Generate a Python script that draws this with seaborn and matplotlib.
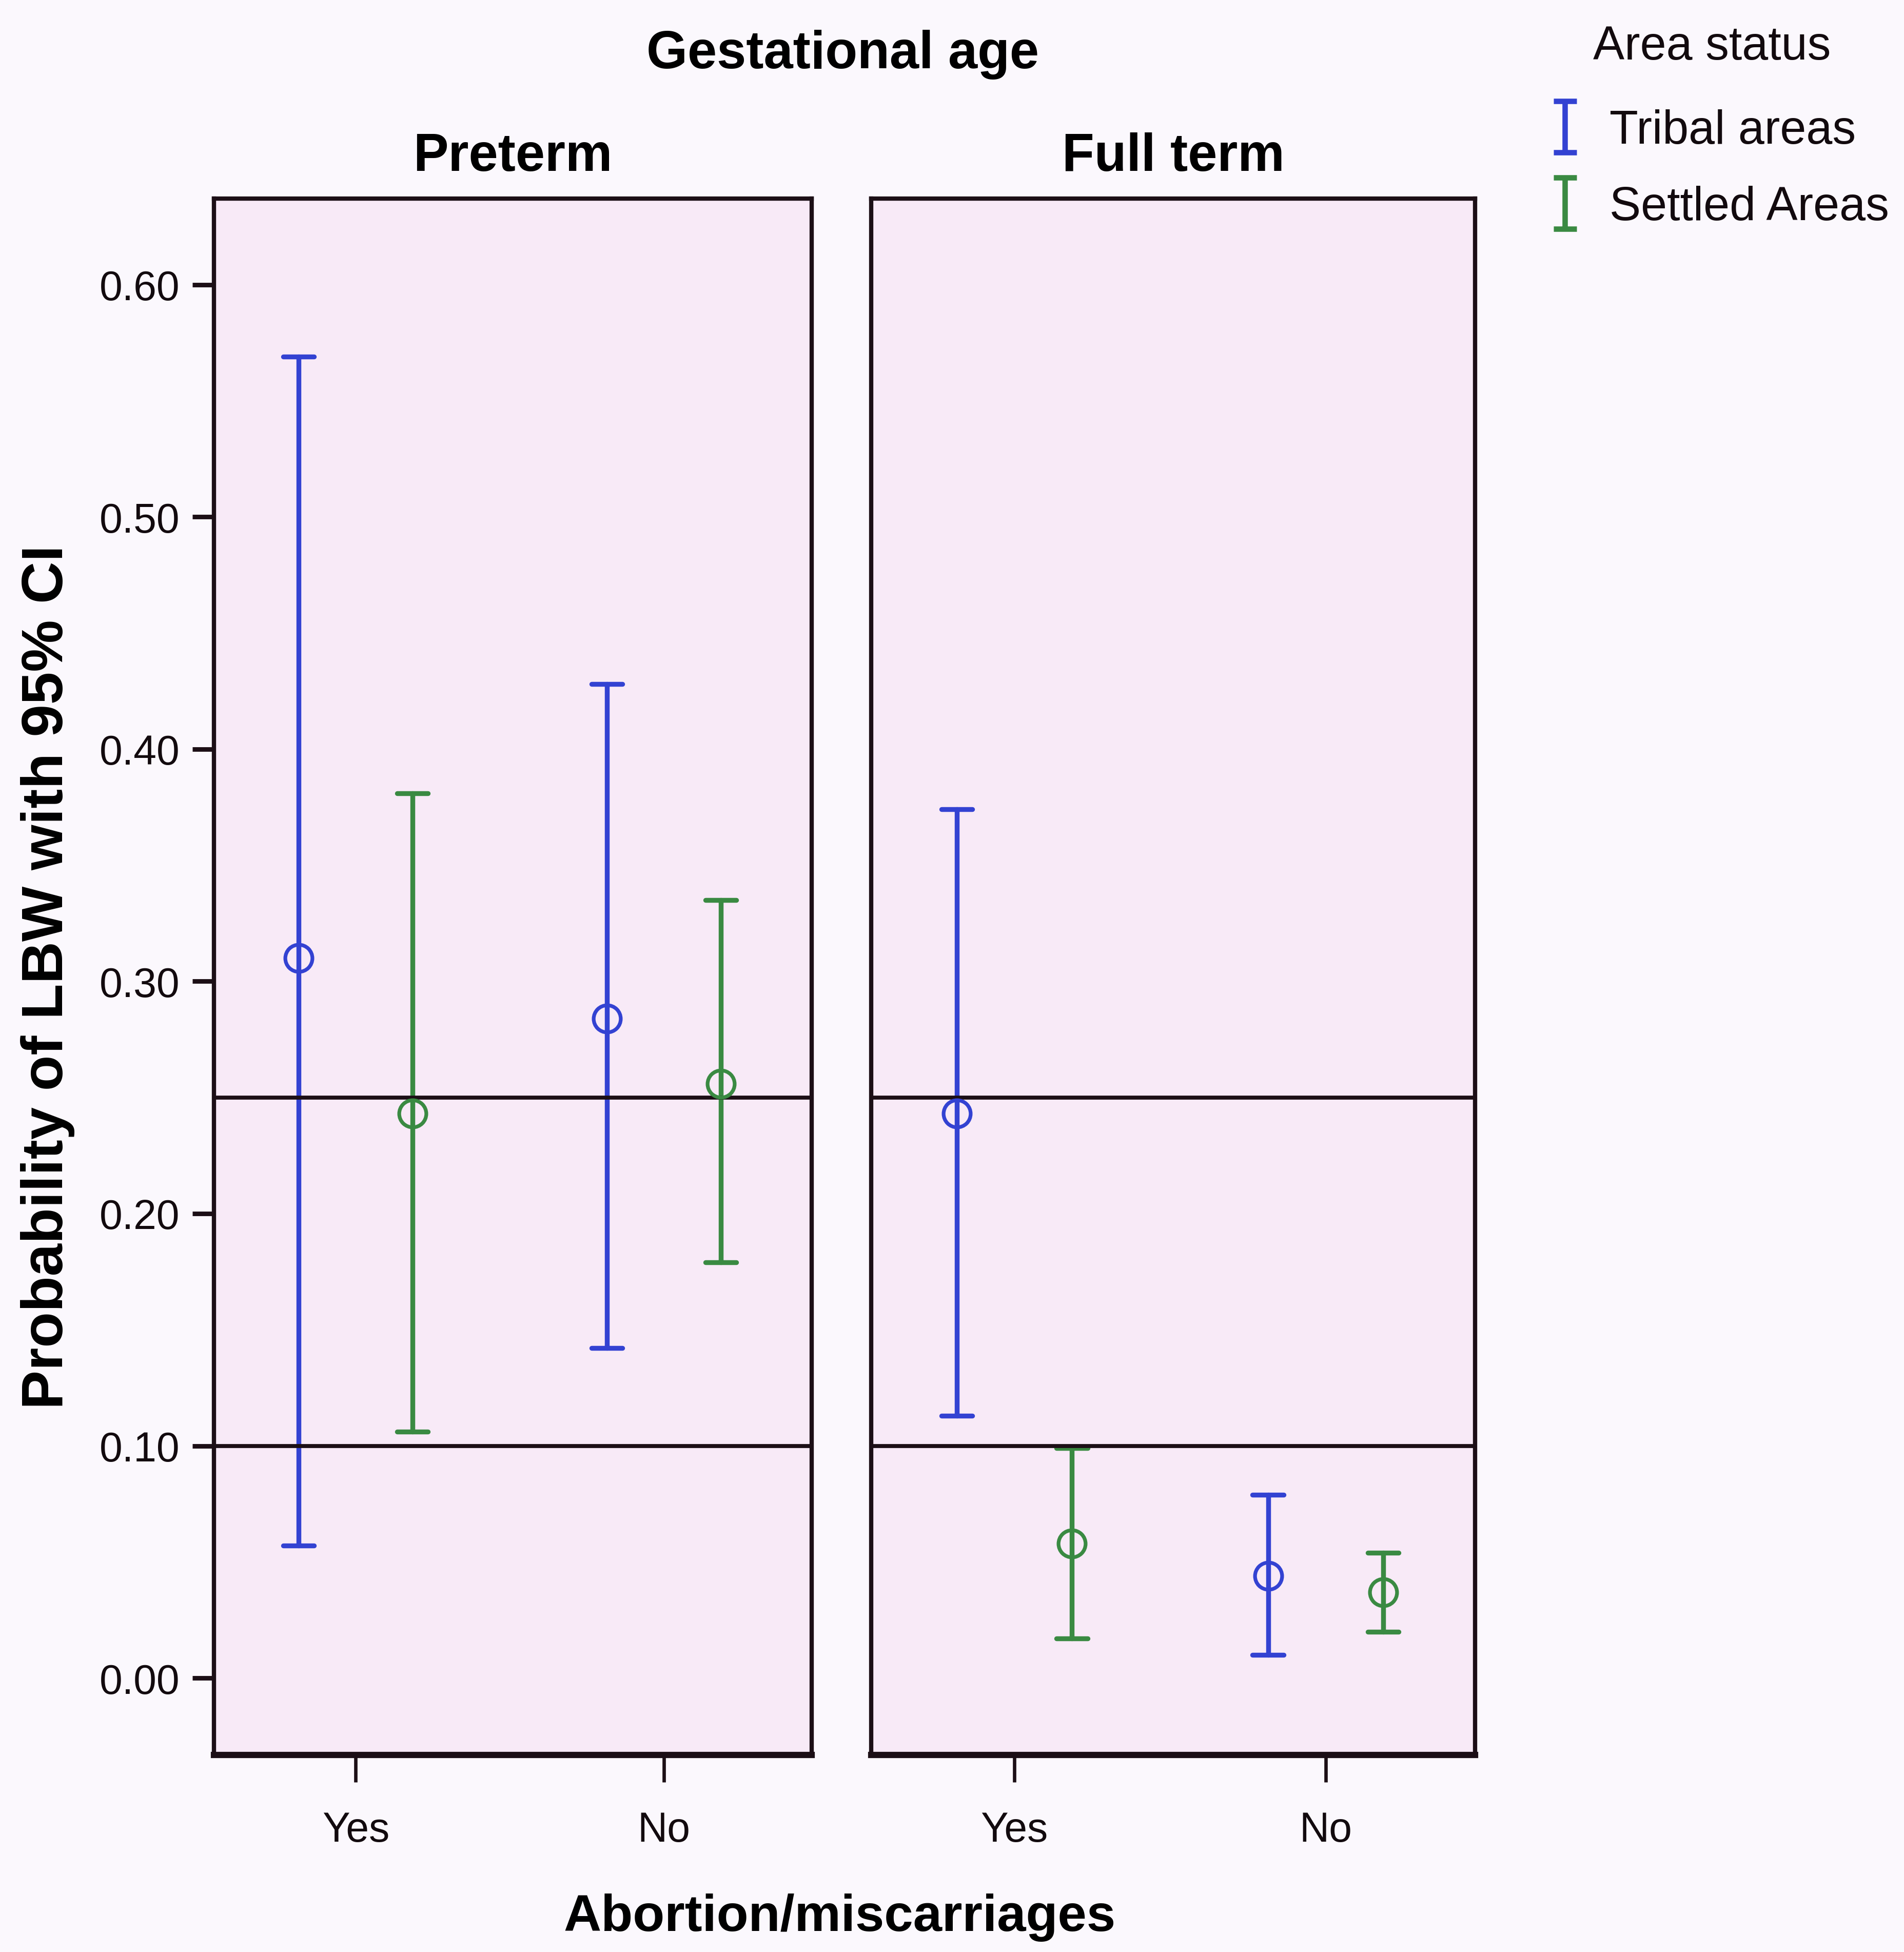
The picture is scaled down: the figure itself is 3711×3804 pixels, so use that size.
import numpy as np
import pandas as pd
import matplotlib
matplotlib.use("Agg")
import matplotlib.pyplot as plt
import seaborn as sns
from matplotlib.path import Path
from matplotlib.lines import Line2D

# ---------------- data ----------------
gestational_age = ["Preterm", "Full term"]
abortion = ["Yes", "No"]
area_status = ["Tribal areas", "Settled Areas"]

preterm_tribal_mean = [0.310, 0.284]
preterm_tribal_lo = [0.057, 0.142]
preterm_tribal_hi = [0.569, 0.428]
preterm_settled_mean = [0.243, 0.256]
preterm_settled_lo = [0.106, 0.179]
preterm_settled_hi = [0.381, 0.335]

fullterm_tribal_mean = [0.243, 0.044]
fullterm_tribal_lo = [0.113, 0.010]
fullterm_tribal_hi = [0.374, 0.079]
fullterm_settled_mean = [0.058, 0.037]
fullterm_settled_lo = [0.017, 0.020]
fullterm_settled_hi = [0.099, 0.054]

reference_lines = [0.25, 0.10]
y_ticks = [0.00, 0.10, 0.20, 0.30, 0.40, 0.50, 0.60]

series = {
    ("Preterm", "Tribal areas"): (preterm_tribal_lo, preterm_tribal_mean, preterm_tribal_hi),
    ("Preterm", "Settled Areas"): (preterm_settled_lo, preterm_settled_mean, preterm_settled_hi),
    ("Full term", "Tribal areas"): (fullterm_tribal_lo, fullterm_tribal_mean, fullterm_tribal_hi),
    ("Full term", "Settled Areas"): (fullterm_settled_lo, fullterm_settled_mean, fullterm_settled_hi),
}
rows = []
for (ga, area), (lo, mn, hi) in series.items():
    for i, ab in enumerate(abortion):
        for v in (lo[i], mn[i], hi[i]):
            rows.append({"Gestational age": ga, "Area status": area,
                         "Abortion/miscarriages": ab, "p": v})
df = pd.DataFrame(rows)

# ---------------- style ----------------
sns.set_theme(style="white")
plt.rcParams["font.family"] = ["Liberation Sans", "DejaVu Sans"]
TXT = "#120a0e"
plt.rcParams.update({"text.color": TXT, "xtick.color": TXT, "ytick.color": TXT,
                     "axes.labelcolor": TXT, "axes.titlecolor": TXT})
FIG_BG = "#FBF8FD"
PANEL_BG = "#F8EAF7"
DARK = "#1c0f16"
palette = {"Tribal areas": "#3342d2", "Settled Areas": "#3a8a42"}

fig = plt.figure(figsize=(18.56, 19.025), dpi=200, facecolor=FIG_BG)
ax_l = fig.add_axes([0.1124, 0.1008, 0.3137, 0.7972])
ax_r = fig.add_axes([0.4575, 0.1008, 0.3170, 0.7972])

for ax, ga in zip([ax_l, ax_r], gestational_age):
    ax.set_facecolor(PANEL_BG)
    sub = df[df["Gestational age"] == ga]
    sns.pointplot(data=sub, x="Abortion/miscarriages", y="p", hue="Area status",
                  order=abortion, hue_order=area_status, palette=palette,
                  estimator=np.median, errorbar=lambda v: (v.min(), v.max()),
                  dodge=0.37, linestyle="none", markers="o", capsize=0.1,
                  markersize=19, markeredgewidth=2.6, linewidth=3.4,
                  err_kws={"linewidth": 3.4}, legend=False, ax=ax)
    for ln in ax.lines:
        if ln.get_marker() == "o":
            ln.set_markerfacecolor("none")
            ln.set_markeredgewidth(2.6)
            ln.set_zorder(4)
    for r in reference_lines:
        ax.axhline(r, color=DARK, lw=2.8, zorder=3)
    ax.set_xlim(-0.46, 1.48)
    ax.set_ylim(-0.0332, 0.637)
    ax.set_xlabel("")
    ax.set_ylabel("")
    ax.set_title(ga, fontsize=37, fontweight="bold", pad=20, color="black")
    for s in ax.spines.values():
        s.set_visible(True)
        s.set_color(DARK)
        s.set_linewidth(3.0)
    ax.spines["bottom"].set_linewidth(4.4)
    ax.tick_params(axis="x", length=19, width=2.4, color=DARK, pad=20,
                   labelsize=29, bottom=True, labelcolor=TXT)
    ax.grid(False)

ax_l.set_yticks(y_ticks)
ax_l.set_yticklabels([f"{v:.2f}" for v in y_ticks])
ax_l.tick_params(axis="y", length=15, width=3.2, color=DARK, pad=9,
                 labelsize=29, left=True, labelcolor=TXT)
ax_r.set_yticks([])

fig.text(0.4425, 0.972, "Gestational age", ha="center", va="center",
         fontsize=37, fontweight="bold", color="black")
fig.text(0.025, 0.4995, "Probability of LBW with 95% CI", rotation=90,
         ha="center", va="center", fontsize=41, fontweight="bold", color="black")
fig.text(0.441, 0.018, "Abortion/miscarriages", ha="center", va="center",
         fontsize=36.5, fontweight="bold", color="black")

# legend with I-bar handles
fig.text(0.8366, 0.9758, "Area status", ha="left", va="center", fontsize=33,
         color=TXT)
ibar = Path([(-0.45, 1), (0.45, 1), (0, 1), (0, -1), (-0.45, -1), (0.45, -1)],
            [Path.MOVETO, Path.LINETO, Path.MOVETO, Path.LINETO,
             Path.MOVETO, Path.LINETO])
handles = [Line2D([], [], marker=ibar, linestyle="none", markersize=36,
                  markeredgewidth=3.8, markeredgecolor=palette[a],
                  markerfacecolor="none") for a in area_status]
leg = fig.legend(handles, area_status, loc="upper left",
                 bbox_to_anchor=(0.8105, 0.944), frameon=False, fontsize=33,
                 borderpad=0, borderaxespad=0, labelcolor=TXT,
                 handlelength=0.9, handletextpad=0.5,
                 labelspacing=0.69)

fig.savefig("out.png", dpi=200, facecolor=FIG_BG)
